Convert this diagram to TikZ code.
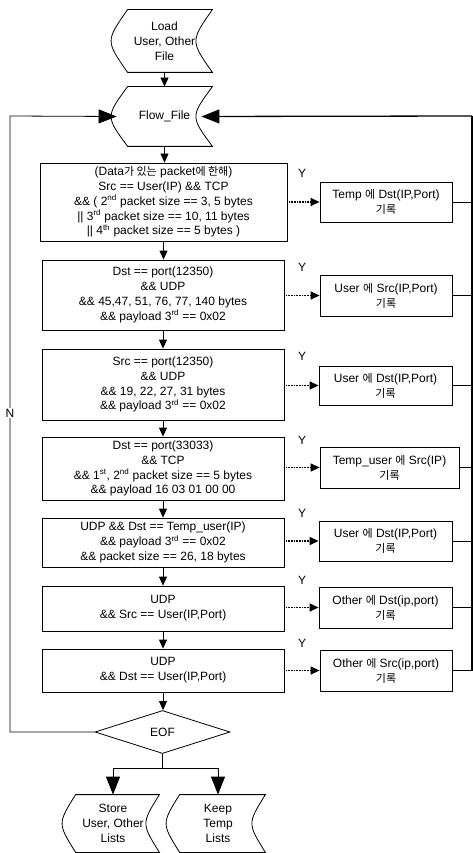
\documentclass[tikz,border=0pt]{standalone}
\usepackage{fontspec}
\setmainfont{Liberation Sans}
\newfontfamily\kr{Noto Sans CJK KR}
\usetikzlibrary{arrows.meta,calc,shapes.geometric}
\newcommand{\ko}[1]{{\kr\fontsize{11}{14}\selectfont #1}}
\newcommand{\dshape}[2]{%
  \draw ($(#1.north west)+(#2,0)$) -- (#1.north east)
    .. controls ($(#1.east)+(-2*#2,0)$) .. (#1.south east)
    -- ($(#1.south west)+(#2,0)$)
    .. controls ($(#1.west)+(-#2,0)$) .. cycle;}
\begin{document}
\begin{tikzpicture}[x=1pt,y=-1pt,font=\fontsize{12}{14.8}\selectfont,line width=0.8pt,
  box/.style={draw,rectangle,align=center,inner sep=0pt},
  res/.style={draw,rectangle,align=center,inner sep=0pt,minimum width=132pt,minimum height=40pt},
  dnode/.style={rectangle,align=center,inner sep=0pt},
  sarrow/.style={-{Triangle[length=9pt,width=8pt]}},
  dotarrow/.style={-{Triangle[length=9pt,width=8pt]},dash pattern=on 1pt off 0.6pt,line width=1.3pt},
  barrow/.style={-{Triangle[length=18pt,width=14pt]}},
  bus/.style={line width=1.3pt}]
\useasboundingbox (0,0) rectangle (473,853);

% stored-data shapes
\node[dnode,minimum width=95pt,minimum height=62pt] (load) at (164.5,41) {Load\\User, Other\\File};
\dshape{load}{11}
\node[dnode,minimum width=95pt,minimum height=59pt] (flow) at (164.5,116.5) {Flow\_File};
\dshape{flow}{11}

% condition boxes
\node[box,minimum width=247pt,minimum height=78pt] (c1) at (163.5,202)
  {(Data\ko{가 있는} packet\ko{에 한해})\\
   Src == User(IP) \&\& TCP\\
   \&\& ( 2\textsuperscript{nd} packet size == 3, 5 bytes\\
   || 3\textsuperscript{rd} packet size == 10, 11 bytes\\
   || 4\textsuperscript{th} packet size == 5 bytes )};
\node[box,minimum width=242pt,minimum height=70pt] (c2) at (163,295)
  {Dst == port(12350)\\ \&\& UDP\\ \&\& 45,47, 51, 76, 77, 140 bytes\\
   \&\& payload 3\textsuperscript{rd} == 0x02};
\node[box,minimum width=242pt,minimum height=71pt] (c3) at (163,384.5)
  {Src == port(12350)\\ \&\& UDP\\ \&\& 19, 22, 27, 31 bytes\\
   \&\& payload 3\textsuperscript{rd} == 0x02};
\node[box,minimum width=242pt,minimum height=63pt] (c4) at (163,468.5)
  {Dst == port(33033)\\ \&\& TCP\\ \&\& 1\textsuperscript{st}, 2\textsuperscript{nd} packet size == 5 bytes\\
   \&\& payload 16 03 01 00 00};
\node[box,minimum width=242pt,minimum height=49pt] (c5) at (163,542.5)
  {UDP \&\& Dst == Temp\_user(IP)\\ \&\& payload 3\textsuperscript{rd} == 0x02\\
   \&\& packet size == 26, 18 bytes};
\node[box,minimum width=242pt,minimum height=45pt] (c6) at (163,608.5)
  {UDP\\ \&\& Src == User(IP,Port)};
\node[box,minimum width=242pt,minimum height=43pt] (c7) at (163,670.5)
  {UDP\\ \&\& Dst == User(IP,Port)};
\node[draw,diamond,aspect=3,minimum width=135pt,minimum height=43pt,inner sep=0pt] (eof) at (162.5,732) {EOF};

% result boxes
\node[res] (r1) at (386,202) {Temp \ko{에} Dst(IP,Port)\\ \ko{기록}};
\node[res,minimum height=41pt] (r2) at (386,295.5) {User \ko{에} Src(IP,Port)\\ \ko{기록}};
\node[res,minimum width=133pt,minimum height=39pt] (r3) at (385.5,385.5) {User \ko{에} Dst(IP,Port)\\ \ko{기록}};
\node[res,minimum width=139pt,minimum height=41pt] (r4) at (389.5,467.5) {Temp\_user \ko{에} Src(IP)\\ \ko{기록}};
\node[res,minimum width=133pt] (r5) at (385.5,541) {User \ko{에} Dst(IP,Port)\\ \ko{기록}};
\node[res,minimum width=133pt,minimum height=41pt] (r6) at (385.5,607.5) {Other \ko{에} Dst(ip,port)\\ \ko{기록}};
\node[res,minimum height=41pt] (r7) at (386,670.5) {Other \ko{에} Src(ip,port)\\ \ko{기록}};

% output shapes
\node[dnode,minimum width=92pt,minimum height=57pt] (store) at (113,823.5) {Store\\User, Other\\Lists};
\dshape{store}{9}
\node[dnode,minimum width=94pt,minimum height=57pt] (keep) at (218,823.5) {Keep\\Temp\\Lists};
\dshape{keep}{9}

% Y labels
\node (y1) at (302,173) {Y};
\node (y2) at (302,267) {Y};
\node (y3) at (302,356) {Y};
\node (y4) at (302,440) {Y};
\node (y5) at (302,513) {Y};
\node (y6) at (302,580) {Y};
\node (y7) at (302,643) {Y};

% main flow
\draw[sarrow] (load.south) -- (flow.north);
\draw[sarrow] (flow.south) -- (flow.south |- c1.north);
\draw[sarrow] (c1.south) -- (c1.south |- c2.north);
\draw[sarrow] (c2.south) -- (c3.north);
\draw[sarrow] (c3.south) -- (c4.north);
\draw[sarrow] (c4.south) -- (c5.north);
\draw[sarrow] (c5.south) -- (c6.north);
\draw[sarrow] (c6.south) -- (c7.north);
\draw[sarrow] (c7.south) -- (c7.south |- eof.north);

% Y branches
\draw[dotarrow] (r1.west -| c1.east) -- (r1.west);
\draw[dotarrow] (r2.west -| c2.east) -- (r2.west);
\draw[dotarrow] (r3.west -| c3.east) -- (r3.west);
\draw[dotarrow] (r4.west -| c4.east) -- (r4.west);
\draw[dotarrow] (r5.west -| c5.east) -- (r5.west);
\draw[dotarrow] (r6.west -| c6.east) -- (r6.west);
\draw[dotarrow] (r7.west -| c7.east) -- (r7.west);

% right bus back to Flow_File
\coordinate (bus) at (472,116);
\foreach \r in {r1,r2,r3,r4,r5,r6}
  \draw (\r.east) -- (\r.east -| bus);
\draw[bus] (r7.east) -- (r7.east -| bus) -- (bus);
\draw[barrow,bus] (bus) -- ($(flow.east)+(-11,0)$);

% left loop (N)
\coordinate (lft) at (10,116);
\draw[barrow] (eof.west) -| (lft) -- (flow.west);
\node[fill=white,inner sep=1pt] (nlab) at (10,413) {N};

% end outputs
\coordinate (split) at (162.5,768);
\draw (eof.south) -- (split);
\draw[barrow] (split) -| (store.north);
\draw[barrow] (split) -| (keep.north);
\end{tikzpicture}
\end{document}
